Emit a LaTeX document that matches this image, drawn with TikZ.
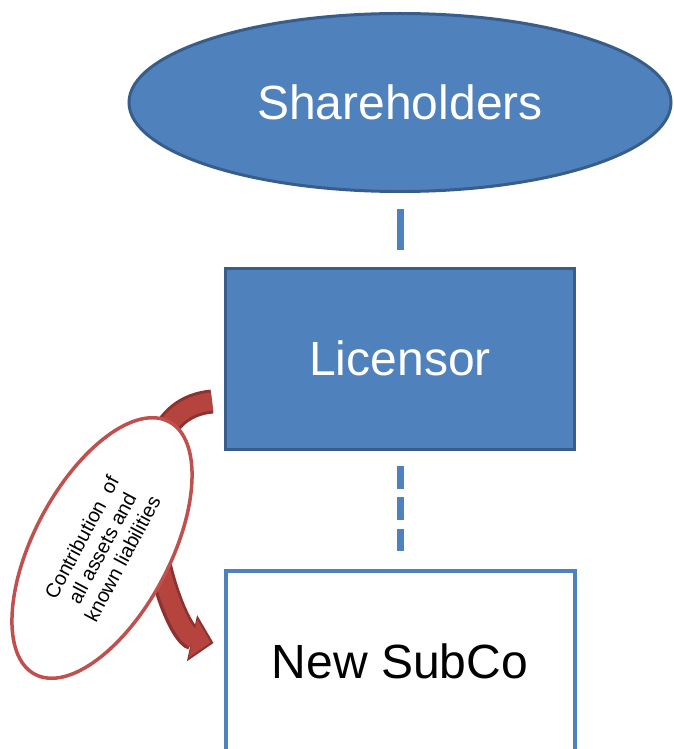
\documentclass[tikz,border=0pt]{standalone}
\usepackage{fontspec}
\setmainfont{Liberation Sans}
\usetikzlibrary{shapes.geometric,arrows.meta}
\definecolor{accblue}{HTML}{4F81BD}
\definecolor{accborder}{HTML}{385D8A}
\definecolor{arrowdark}{HTML}{8C3230}
\definecolor{arrowred}{HTML}{B5443F}
\definecolor{ellred}{HTML}{C0504D}
\begin{document}
\begin{tikzpicture}[x=1pt,y=-1pt,
  bluebox/.style={draw=accborder, fill=accblue, line width=3pt, minimum width=349pt, minimum height=181pt, text=white, font=\fontsize{48}{58}\selectfont, inner sep=0pt},
  whitebox/.style={draw=accblue, fill=white, line width=4pt, minimum width=349pt, minimum height=181pt, text=black, font=\fontsize{48}{58}\selectfont, inner sep=0pt},
  blueoval/.style={ellipse, draw=accborder, fill=accblue, line width=3pt, minimum width=542pt, minimum height=178pt, text=white, font=\fontsize{48}{58}\selectfont, inner sep=0pt},
  redoval/.style={ellipse, draw=ellred, fill=white, line width=3.5pt, minimum width=286pt, minimum height=136pt, align=center, font=\fontsize{20}{23}\selectfont, inner sep=0pt},
  dashline/.style={draw=accblue, line width=7pt},
  bandouter/.style={draw=arrowdark, line width=24pt},
  bandinner/.style={draw=arrowred, line width=18pt}]
\useasboundingbox (0,0) rectangle (673,749);
\clip (0,0) rectangle (673,749);
\fill[white] (0,0) rectangle (673,749);

\node[blueoval] (sh) at (400,102.5) {Shareholders};
\node[bluebox] (lic) at (400,358.5) {Licensor};
\node[whitebox] (sub) at (400,661) {New SubCo};

\draw[dashline, shorten <=16pt, shorten >=17pt] (sh.south) -- (lic.north);
\draw[dashline, dash pattern=on 23pt off 8.5pt, shorten <=15pt, shorten >=18pt] (lic.south) -- (sub.north);

\coordinate (arrS) at ([xshift=-12pt,yshift=49pt]lic.south west);
\coordinate (arrT) at ([xshift=-10pt,yshift=18pt]sub.west);
\draw[bandouter, -{Triangle[length=22pt 0, width=46pt 0]}] (arrS) .. controls +(-110,10) and +(-45,-10) .. (arrT);
\draw[bandinner, shorten >=3pt, -{Triangle[length=18pt 0, width=38pt 0]}] (arrS) .. controls +(-110,10) and +(-45,-10) .. (arrT);

\node[redoval, rotate=62] (contrib) at (102,548) {Contribution\ \ of\\all assets and\\known liabilities};
\end{tikzpicture}
\end{document}
